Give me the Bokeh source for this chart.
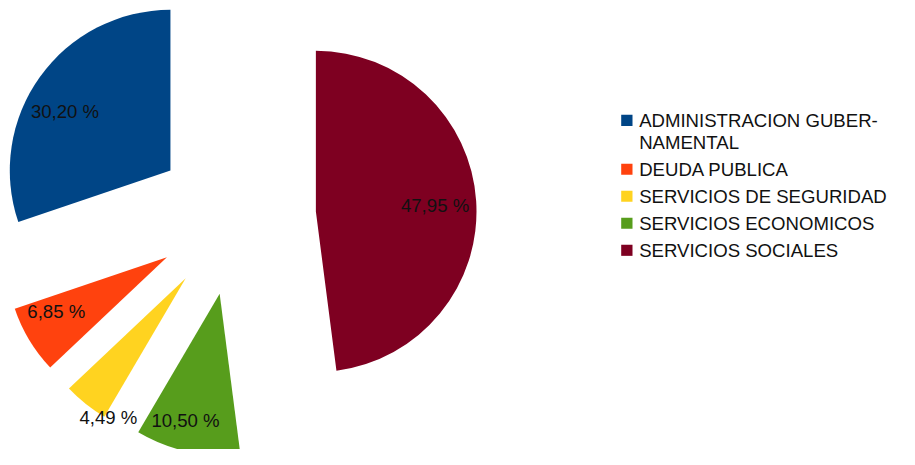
import numpy as np
from bokeh.plotting import figure
from bokeh.models import Range1d, ColumnDataSource
from bokeh.core.properties import value
from bokeh.embed import file_html
from bokeh.resources import INLINE

# ---- data ----
categories = ["ADMINISTRACION GUBERNAMENTAL", "DEUDA PUBLICA", "SERVICIOS DE SEGURIDAD",
              "SERVICIOS ECONOMICOS", "SERVICIOS SOCIALES"]
legend_labels = ["ADMINISTRACION GUBER-\nNAMENTAL", "DEUDA PUBLICA", "SERVICIOS DE SEGURIDAD",
                 "SERVICIOS ECONOMICOS", "SERVICIOS SOCIALES"]
shares = [30.20, 6.85, 4.49, 10.50, 47.95]
colors = ["#004586", "#ff420e", "#ffd320", "#579d1c", "#7e0021"]

# ---- style / layout ----
W, H = 899, 449             # figure size in pixels
UW, UH = 915, 465           # drawing units (chart canvas)
CX, CY = 239.4, 241.3       # pie centre (units)
R = 163.5                   # radius
EXPLODE = 0.5               # offset of each slice as fraction of R
label_dist = [0.755, 0.77, 1.007, 0.83, 0.743]     # label distance (fraction of R)
label_turn = [6.0, -4.5, 10.0, -3.3, -0.6]         # label angle tweak, degrees
FONT = "Liberation Sans"
FS = "18.6px"

vals = np.array(shares, dtype=float)
fr = vals / vals.sum()
ends_c = np.cumsum(fr) * 2 * np.pi
starts = np.pi / 2 + np.concatenate([[0.0], ends_c[:-1]])
ends = np.pi / 2 + ends_c
mids = (starts + ends) / 2
ax = CX + EXPLODE * R * np.cos(mids)
ay = CY + EXPLODE * R * np.sin(mids)

la = mids + np.radians(label_turn)
lx = ax + np.array(label_dist) * R * np.cos(la)
ly = ay + np.array(label_dist) * R * np.sin(la)
label_text = [f"{v:.2f}".replace(".", ",") + " %" for v in shares]

src = ColumnDataSource(dict(x=ax, y=ay, start=starts, end=ends, color=colors,
                            lx=lx, ly=ly, lab=label_text))

p = figure(width=W, height=H, x_range=Range1d(0, UW), y_range=Range1d(0, UH),
           output_backend="svg", toolbar_location=None, min_border=0,
           x_axis_location=None, y_axis_location=None, outline_line_color=None)
p.grid.visible = False
p.background_fill_color = "white"

p.wedge(x="x", y="y", radius=R, start_angle="start", end_angle="end",
        fill_color="color", line_color=None, source=src)
p.text(x="lx", y="ly", text="lab", text_align="center", text_baseline="middle",
       text_font=value(FONT), text_font_size=FS, text_color="#111111", source=src)

# ---- legend (manual) ----
LX_SQ, LX_TXT = 637.5, 650
y = UH - 124.2
LINE_H, GAP = 22.5, 5.5
sq_x, sq_y, sq_c, tx, ty, tt = [], [], [], [], [], []
for lab, c in zip(legend_labels, colors):
    sq_x.append(LX_SQ); sq_y.append(y); sq_c.append(c)
    for line in lab.split("\n"):
        tx.append(LX_TXT); ty.append(y); tt.append(line)
        y -= LINE_H
    y -= GAP
p.rect(x=sq_x, y=sq_y, width=11.5, height=11.5, fill_color=sq_c, line_color=None)
p.text(x=tx, y=ty, text=tt, text_align="left", text_baseline="middle",
       text_font=value(FONT), text_font_size=FS, text_color="#111111")

open("out.html", "w").write(file_html(p, INLINE))
